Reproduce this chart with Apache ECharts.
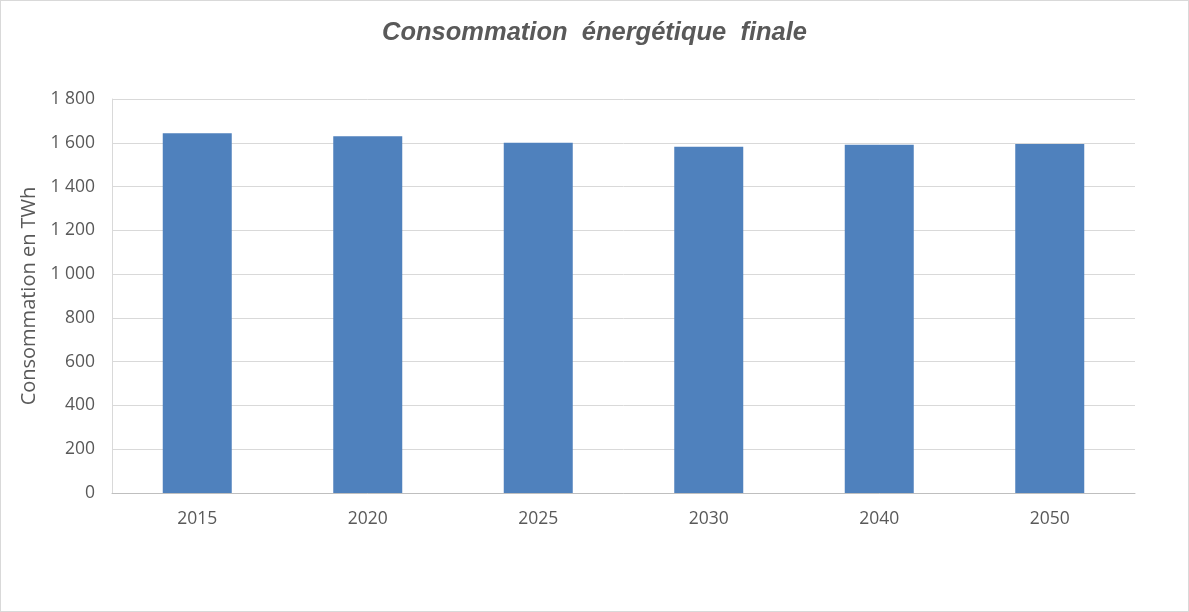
<!DOCTYPE html>
<html><head><meta charset="utf-8">
<script src="https://cdn.jsdelivr.net/npm/echarts@6/dist/echarts.min.js"></script>
<style>
html,body{margin:0;padding:0;background:#fff;}
#c{position:absolute;left:0;top:0;width:1187px;height:610px;border:1px solid #d9d9d9;}
</style></head><body>
<div id="c"></div>
<script>
const categories = ['2015','2020','2025','2030','2040','2050'];
const values = [1644, 1630, 1600, 1582, 1591, 1594];
const chart = echarts.init(document.getElementById('c'));
chart.setOption({
  animation:false,
  title:{text:'Consommation  énergétique  finale',left:'center',top:14,
    textStyle:{fontFamily:'Liberation Sans',fontStyle:'italic',fontWeight:'bold',fontSize:25.5,color:'#595959'}},
  grid:{left:111,right:53,top:98,bottom:118},
  xAxis:{type:'category',data:categories,
    axisLine:{lineStyle:{color:'#bfbfbf',width:1}},axisTick:{show:false},
    axisLabel:{color:'#595959',fontSize:17.5,fontFamily:'Open Sans',margin:17}},
  yAxis:{type:'value',min:0,max:1800,interval:200,
    name:'Consommation en TWh',nameLocation:'middle',nameGap:69,nameRotate:90,
    nameTextStyle:{color:'#595959',fontSize:20,fontFamily:'Open Sans'},
    axisLine:{show:true,lineStyle:{color:'#d9d9d9'}},
    splitLine:{lineStyle:{color:'#d9d9d9'}},
    axisLabel:{color:'#595959',fontSize:17.5,fontFamily:'Open Sans',margin:17,
      formatter:v=>String(v).replace(/\B(?=(\d{3})+(?!\d))/g,' ')}},
  series:[{type:'bar',data:values,barWidth:69,itemStyle:{color:'#4f81bd'}}]
});
</script></body></html>
